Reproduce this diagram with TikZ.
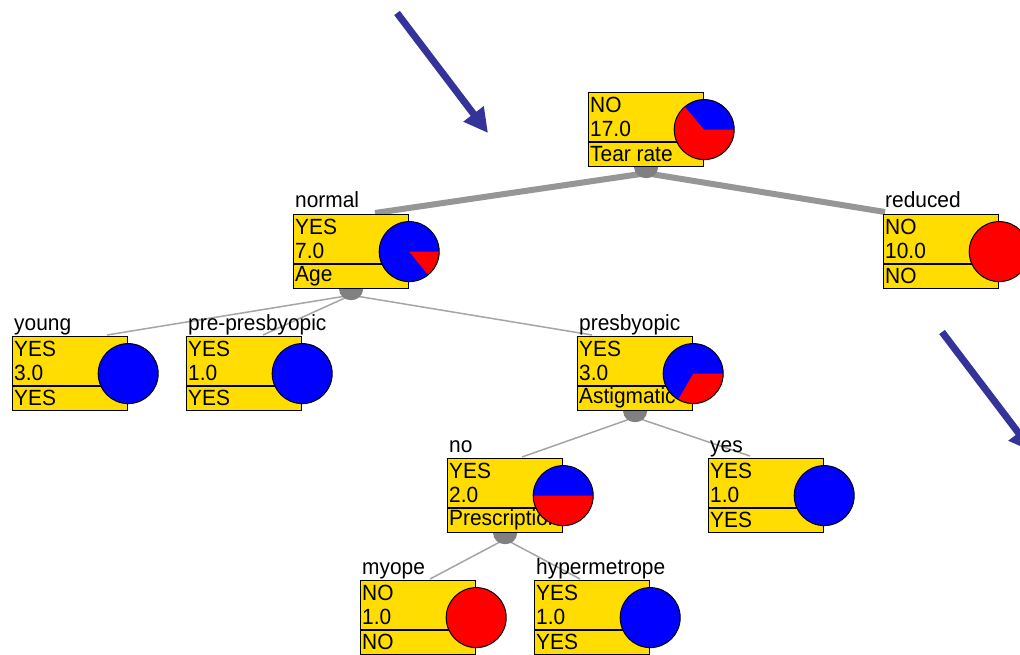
\documentclass[tikz,border=0pt]{standalone}
\usepackage{fontspec}
\setmainfont{Liberation Sans}[FakeStretch=0.95]
\usetikzlibrary{arrows.meta,calc}
\definecolor{boxyellow}{RGB}{255,221,0}
\definecolor{pieblue}{RGB}{0,0,255}
\definecolor{piered}{RGB}{255,0,0}
\definecolor{thickgray}{RGB}{150,150,150}
\definecolor{thingray}{RGB}{165,165,165}
\definecolor{bumpgray}{RGB}{128,128,128}
\definecolor{arrowblue}{RGB}{51,51,153}
\tikzset{
  tbox/.style={draw=black, line width=1.2pt, fill=boxyellow, rectangle, minimum width=115pt, minimum height=74pt, inner sep=0pt},
  tlabel/.style={inner sep=0pt, font=\fontsize{22}{24}\selectfont},
  ttext/.style={inner sep=0pt, font=\fontsize{22}{24}\selectfont},
  sepline/.style={draw=black, line width=1.2pt},
  thickedge/.style={draw=thickgray, line width=6pt},
  thinedge/.style={draw=thingray, line width=1.5pt},
  pieline/.style={draw=black, line width=1pt},
  bigarrow/.style={draw=arrowblue, line width=7pt, -{Triangle[length=24pt,width=24pt]}}
}
\newcommand\TNode[7]{%
  \node[tbox, anchor=north west] (#1) at (#2,#3) {};
  \node[tlabel, anchor=base west] (#1-lab) at ($(#1.north west)+(2,-6)$) {#4};
  \draw[sepline] ($(#1.north west)+(0,50)$) -- ($(#1.north east)+(0,50)$);
  \node[ttext, anchor=west] (#1-t1) at ($(#1.north west)+(2,12.5)$) {#5};
  \node[ttext, anchor=west] (#1-t2) at ($(#1.north west)+(2,36.5)$) {#6};
  \node[ttext, anchor=west] (#1-t3) at ($(#1.north west)+(2,62)$) {#7};
}
\newcommand\PieFull[2]{%
  \fill[#2] (#1.east) circle[radius=30];
  \draw[pieline] (#1.east) circle[radius=30];
}
% #1 node, #2 base colour, #3 wedge colour, #4 start, #5 end (screen angles, clockwise positive)
\newcommand\PieWedge[5]{%
  \fill[#2] (#1.east) circle[radius=30];
  \fill[#3] (#1.east) -- ++(#4:30) arc[start angle=#4, end angle=#5, radius=30] -- cycle;
  \draw[pieline] (#1.east) circle[radius=30];
}
\newcommand\Bump[1]{%
  \fill[bumpgray] ($(#1.south)+(-12,0)$) arc[start angle=180, end angle=0, x radius=12, y radius=11] -- cycle;
}
\begin{document}
\begin{tikzpicture}[x=1pt, y=-1pt]
\useasboundingbox (0,0) rectangle (1020,655);
\clip (0,0) rectangle (1020,655);
\fill[white] (0,0) rectangle (1020,655);

% invisible copies of the parent boxes, to obtain anchors for the edges
\begin{scope}[opacity=0]
\node[tbox, anchor=north west] (root) at (588,92) {};
\node[tbox, anchor=north west] (normal) at (293,214) {};
\node[tbox, anchor=north west] (presb) at (577,336) {};
\node[tbox, anchor=north west] (no) at (447,458) {};
\end{scope}

% attachment points on children
\coordinate (normal-in) at (375,213);
\coordinate (reduced-in) at (885,212);
\coordinate (young-in) at (107,335);
\coordinate (pre-in) at (263,335);
\coordinate (presb-in) at (592,335);
\coordinate (no-in) at (522,457);
\coordinate (yes-in) at (750,456);
\coordinate (myope-in) at (430,579);
\coordinate (hyper-in) at (580,579);

\coordinate (root-out) at ($(root.south)+(0,6)$);
\coordinate (normal-out) at ($(normal.south)+(0,6)$);
\coordinate (presb-out) at ($(presb.south)+(0,6)$);
\coordinate (no-out) at ($(no.south)+(0,6)$);

% edges
\draw[thickedge] (root-out) -- (normal-in);
\draw[thickedge] (root-out) -- (reduced-in);
\draw[thinedge] (normal-out) -- (young-in);
\draw[thinedge] (normal-out) -- (pre-in);
\draw[thinedge] (normal-out) -- (presb-in);
\draw[thinedge] (presb-out) -- (no-in);
\draw[thinedge] (presb-out) -- (yes-in);
\draw[thinedge] (no-out) -- (myope-in);
\draw[thinedge] (no-out) -- (hyper-in);

% nodes
\TNode{root}{588}{92}{}{NO}{17.0}{Tear rate}
\PieWedge{root}{piered}{pieblue}{0}{-130}
\Bump{root}

\TNode{normal}{293}{214}{normal}{YES}{7.0}{Age}
\PieWedge{normal}{pieblue}{piered}{0}{51}
\Bump{normal}

\TNode{reduced}{883}{214}{reduced}{NO}{10.0}{NO}
\PieFull{reduced}{piered}

\TNode{young}{12}{336}{young}{YES}{3.0}{YES}
\PieFull{young}{pieblue}

\TNode{pre}{186}{336}{pre-presbyopic}{YES}{1.0}{YES}
\PieFull{pre}{pieblue}

\TNode{presb}{577}{336}{presbyopic}{YES}{3.0}{Astigmatic}
\PieWedge{presb}{pieblue}{piered}{0}{120}
\Bump{presb}

\TNode{no}{447}{458}{no}{YES}{2.0}{Prescription}
\PieWedge{no}{pieblue}{piered}{0}{180}
\Bump{no}

\TNode{yes}{708}{458}{yes}{YES}{1.0}{YES}
\PieFull{yes}{pieblue}

\TNode{myope}{360}{580}{myope}{NO}{1.0}{NO}
\PieFull{myope}{piered}

\TNode{hyper}{534}{580}{hypermetrope}{YES}{1.0}{YES}
\PieFull{hyper}{pieblue}

% blue arrows
\coordinate (a1s) at (397,13);
\coordinate (a1e) at (488,133);
\draw[bigarrow] (a1s) -- (a1e);
\coordinate (a2s) at (942,332);
\coordinate (a2e) at (1033,452);
\draw[bigarrow] (a2s) -- (a2e);
\end{tikzpicture}
\end{document}
